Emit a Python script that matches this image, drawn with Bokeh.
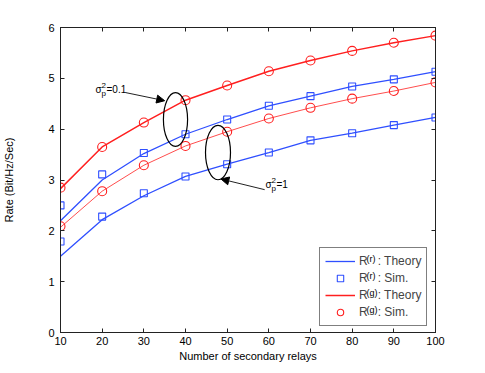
from bokeh.plotting import figure
from bokeh.models import (Legend, LegendItem, LinearAxis, Range1d, FixedTicker,
                          Label, Arrow, NormalHead)
from bokeh.embed import file_html
from bokeh.resources import INLINE

# ---- data ----
relays = [10, 20, 30, 40, 50, 60, 70, 80, 90, 100]

# sigma_p^2 = 0.1
r_theory_01 = [2.20, 3.00, 3.52, 3.90, 4.19, 4.46, 4.65, 4.84, 4.98, 5.13]
r_sim_01 = [2.50, 3.11, 3.53, 3.90, 4.19, 4.46, 4.65, 4.84, 4.98, 5.13]
g_theory_01 = [2.83, 3.65, 4.13, 4.57, 4.86, 5.14, 5.35, 5.54, 5.70, 5.84]
g_sim_01 = [2.85, 3.65, 4.13, 4.57, 4.86, 5.14, 5.35, 5.54, 5.70, 5.84]

# sigma_p^2 = 1
r_theory_1 = [1.50, 2.22, 2.69, 3.07, 3.31, 3.54, 3.78, 3.92, 4.08, 4.23]
r_sim_1 = [1.79, 2.28, 2.74, 3.07, 3.31, 3.54, 3.78, 3.92, 4.08, 4.23]
g_theory_1 = [2.07, 2.78, 3.29, 3.67, 3.95, 4.21, 4.42, 4.60, 4.75, 4.92]
g_sim_1 = [2.09, 2.78, 3.29, 3.67, 3.95, 4.21, 4.42, 4.60, 4.75, 4.92]

x_ticks = [10, 20, 30, 40, 50, 60, 70, 80, 90, 100]
y_ticks = [0, 1, 2, 3, 4, 5, 6]

legend_labels = ["R   : Theory", "R   : Sim.", "R   : Theory", "R   : Sim."]
legend_sups = ["(r)", "(r)", "(g)", "(g)"]

# annotation ellipses (x, y, width, height in data units)
ell_x = [37.6, 47.8]
ell_y = [4.19, 3.54]
ell_w = [5.8, 6.0]
ell_h = [1.06, 1.07]

BLUE = "#2f4fff"
RED = "#ff1f1f"
FONT = "Liberation Sans"
FW, FH = 375, 305
X0, X1, Y0, Y1 = 10, 100, 0, 6

p = figure(frame_width=FW, frame_height=FH, output_backend="svg",
           toolbar_location=None, x_range=Range1d(X0, X1), y_range=Range1d(Y0, Y1),
           min_border_left=57, min_border_top=27, min_border_right=40,
           min_border_bottom=33)
p.xgrid.visible = False
p.ygrid.visible = False
p.outline_line_color = "#222222"
p.outline_line_width = 1
p.background_fill_color = "white"
p.border_fill_color = "white"

def style_axis(ax, labels=True):
    ax.major_tick_in = 4
    ax.major_tick_out = 0
    ax.minor_tick_line_color = None
    ax.axis_line_color = "#222222"
    ax.major_tick_line_color = "#222222"
    ax.major_label_text_font = FONT
    ax.major_label_text_font_size = "11px"
    ax.major_label_text_color = "black" if labels else None
    ax.axis_label_text_font = FONT
    ax.axis_label_text_font_size = "11px"
    ax.axis_label_text_font_style = "normal"
    ax.axis_label_text_color = "black"

p.add_layout(LinearAxis(), "above")
p.add_layout(LinearAxis(), "right")

for ax in p.below:
    style_axis(ax)
    ax.ticker = FixedTicker(ticks=x_ticks)
    ax.axis_label = "Number of secondary relays"
    ax.major_label_standoff = 4
    ax.axis_label_standoff = 2
for ax in p.left:
    style_axis(ax)
    ax.ticker = FixedTicker(ticks=y_ticks)
    ax.axis_label = "Rate (Bit/Hz/Sec)"
    ax.major_label_standoff = 6
    ax.axis_label_standoff = 30
for ax in p.above:
    style_axis(ax, labels=False)
    ax.ticker = FixedTicker(ticks=x_ticks)
for ax in p.right:
    style_axis(ax, labels=False)
    ax.ticker = FixedTicker(ticks=y_ticks)

# lines
l_r01 = p.line(relays, r_theory_01, line_color=BLUE, line_width=1.3)
l_r1 = p.line(relays, r_theory_1, line_color=BLUE, line_width=1.3)
l_g01 = p.line(relays, g_theory_01, line_color=RED, line_width=1.5)
l_g1 = p.line(relays, g_theory_1, line_color=RED, line_width=0.8)

s_r01 = p.scatter(relays, r_sim_01, marker="square", size=7, fill_color=None,
                  line_color=BLUE, line_width=1.1)
s_r1 = p.scatter(relays, r_sim_1, marker="square", size=7, fill_color=None,
                 line_color=BLUE, line_width=1.1)
s_g01 = p.scatter(relays, g_sim_01, marker="circle", size=9, fill_color=None,
                  line_color=RED, line_width=1.1)
s_g1 = p.scatter(relays, g_sim_1, marker="circle", size=9, fill_color=None,
                 line_color=RED, line_width=1.1)

# ellipses
p.ellipse(x=ell_x, y=ell_y, width=ell_w, height=ell_h, fill_color=None,
          line_color="black", line_width=1.2)

# arrows
p.add_layout(Arrow(x_start=25.6, y_start=4.72, x_end=35.0, y_end=4.56,
                   line_color="#222222", line_width=1,
                   end=NormalHead(size=8, fill_color="black", line_color="black")))
p.add_layout(Arrow(x_start=59.0, y_start=2.81, x_end=48.5, y_end=3.02,
                   line_color="#222222", line_width=1,
                   end=NormalHead(size=8, fill_color="black", line_color="black")))

def sigma_label(x, y, tail):
    common = dict(x=x, y=y, text_font=FONT, text_color="black",
                  text_baseline="middle", text_align="left")
    p.add_layout(Label(text="σ", text_font_size="10px", **common))
    p.add_layout(Label(text="2", text_font_size="8px", x_offset=6, y_offset=4, **common))
    p.add_layout(Label(text="p", text_font_size="8px", x_offset=6, y_offset=-4, **common))
    p.add_layout(Label(text=tail, text_font_size="10px", x_offset=11, **common))

sigma_label(18.4, 4.78, "=0.1")
sigma_label(59.2, 2.91, "=1")

# legend
LEG_X, LEG_Y = 259, 6
PAD, LH, SP, GW, LS = 5, 16, 1, 30, 4
renderers = [l_r01, s_r01, l_g01, s_g01]
legend = Legend(items=[LegendItem(label=lab, renderers=[r])
                       for lab, r in zip(legend_labels, renderers)],
                location=(LEG_X, LEG_Y))
legend.label_text_font = FONT
legend.label_text_font_size = "12px"
legend.label_height = LH
legend.glyph_height = LH
legend.glyph_width = GW
legend.spacing = SP
legend.padding = PAD
legend.margin = 0
legend.label_standoff = LS
legend.border_line_color = "black"
legend.border_line_width = 1
legend.background_fill_alpha = 0
p.add_layout(legend)

# superscripts of the legend labels, placed over the gap left in each label
H = 2 * PAD + 4 * LH + 3 * SP
top = LEG_Y + H
text_x = LEG_X + PAD + GW + LS
for i, sup in enumerate(legend_sups):
    sx = text_x + 8
    sy = top - PAD - LH / 2 - i * (LH + SP) + 4
    p.add_layout(Label(x=X0 + sx * (X1 - X0) / FW, y=Y0 + sy * (Y1 - Y0) / FH,
                       text=sup, text_font=FONT, text_font_size="9px",
                       text_color="black", text_baseline="middle",
                       text_align="left", level="overlay"))

open("out.html", "w").write(file_html(p, INLINE))
